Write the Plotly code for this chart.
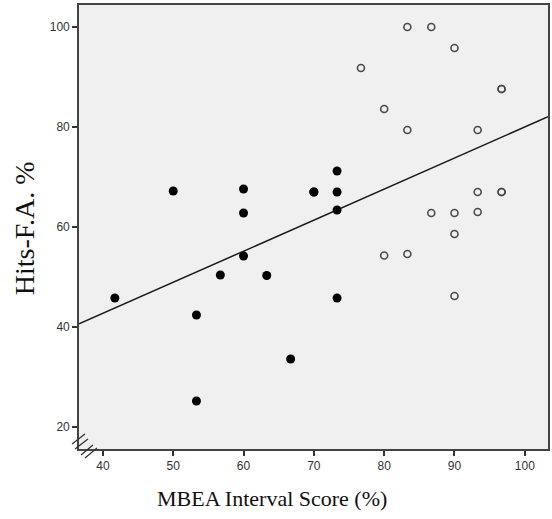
import plotly.graph_objects as go

# Filled (black) group
filled_x = [41.7, 50.0, 53.3, 53.3, 56.7, 60.0, 60.0, 60.0, 63.3, 66.7, 70.0, 70.0, 73.3, 73.3, 73.3, 73.3]
filled_y = [45.8, 67.2, 42.4, 25.2, 50.4, 67.6, 62.8, 54.2, 50.3, 33.6, 67.0, 67.0, 71.2, 67.0, 63.4, 45.8]

# Open group
open_x = [76.7, 80.0, 80.0, 83.3, 83.3, 83.3, 86.7, 86.7, 90.0, 90.0, 90.0, 90.0, 93.3, 93.3, 93.3, 96.7, 96.7, 96.7, 96.7]
open_y = [91.8, 83.6, 54.3, 100.0, 79.4, 54.6, 100.0, 62.8, 95.8, 62.8, 58.6, 46.2, 79.4, 67.0, 63.0, 87.6, 87.6, 67.0, 67.0]

# Fit line
fit_slope = 0.621
fit_intercept = 17.9

x_ticks = [40, 50, 60, 70, 80, 90, 100]
y_ticks = [20, 40, 60, 80, 100]
x_range = [36.6, 103.3]
y_range = [15.6, 104.4]

fig = go.Figure()
fig.add_trace(go.Scatter(
    x=x_range, y=[fit_intercept + fit_slope * v for v in x_range],
    mode="lines", line=dict(color="#1a1a1a", width=1.5), hoverinfo="skip"))
fig.add_trace(go.Scatter(
    x=open_x, y=open_y, mode="markers",
    marker=dict(symbol="circle-open", size=7, color="#4a4a4a", line=dict(width=1.6, color="#4a4a4a"))))
fig.add_trace(go.Scatter(
    x=filled_x, y=filled_y, mode="markers",
    marker=dict(symbol="circle", size=9, color="black", line=dict(width=0))))

L, R, T, B = 79, 2, 5, 70
W, H = 552, 519
pw, ph = W - L - R, H - T - B

def px(x):
    return (x - L) / pw

def py(y):
    return (H - B - y) / ph

shapes = []
for (x0, y0, x1, y1) in [(72, 444, 85, 434), (75, 449, 88, 439), (81, 455, 93, 445), (85, 458, 97, 448)]:
    shapes.append(dict(type="line", xref="paper", yref="paper",
                       x0=px(x0), y0=py(y0), x1=px(x1), y1=py(y1),
                       line=dict(color="#333", width=1.3)))

axis_common = dict(showgrid=False, zeroline=False, showline=True, linecolor="#444", linewidth=1.6,
                   mirror=True, ticks="outside", ticklen=5, tickwidth=1.5, tickcolor="#333",
                   tickfont=dict(family="Liberation Sans, Arial", size=12, color="#333"))

fig.update_layout(
    width=W, height=H, margin=dict(l=L, r=R, t=T, b=B),
    paper_bgcolor="white", plot_bgcolor="#F0F0F0", showlegend=False,
    xaxis=dict(range=x_range, tickvals=x_ticks, **axis_common),
    yaxis=dict(range=y_range, tickvals=y_ticks, **axis_common),
    shapes=shapes,
    annotations=[
        dict(text="MBEA Interval Score (%)", xref="paper", yref="paper",
             x=px(273), y=py(498), xanchor="center", yanchor="middle", showarrow=False,
             font=dict(family="Liberation Serif, Times New Roman, serif", size=22, color="#111")),
        dict(text="Hits-F.A. %", xref="paper", yref="paper", textangle=-90,
             x=px(24), y=py(228), xanchor="center", yanchor="middle", showarrow=False,
             font=dict(family="Liberation Serif, Times New Roman, serif", size=28, color="#111")),
    ],
)
fig.write_html("out.html", config={"displayModeBar": False},
               post_script="document.body.style.margin='0';document.body.style.padding='0';")
